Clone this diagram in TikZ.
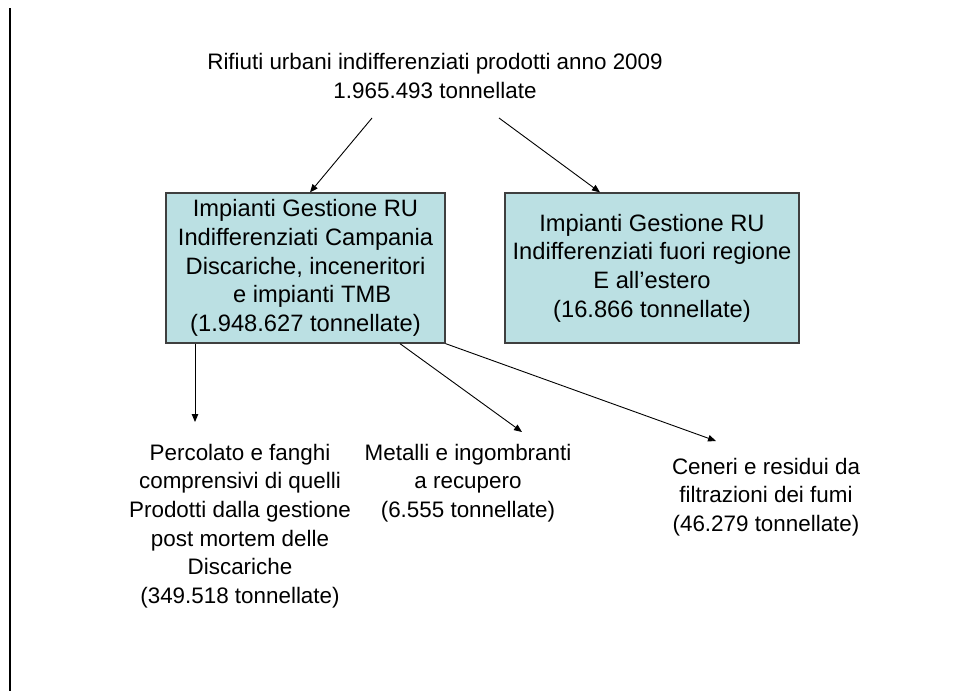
\documentclass[tikz,border=0pt]{standalone}
\usepackage{fontspec}
\setmainfont{Liberation Sans}
\usetikzlibrary{arrows.meta}
\definecolor{boxfill}{HTML}{BBE0E3}
\definecolor{boxline}{HTML}{3F3F3F}
\begin{document}
\begin{tikzpicture}[x=1pt, y=-1pt,
  txt/.style={align=center, font=\fontsize{22.4}{28.7}\selectfont, inner sep=0pt},
  box/.style={txt, font=\fontsize{23.7}{28.7}\selectfont, draw=boxline, fill=boxfill, line width=1.3pt, minimum height=150pt},
  arr/.style={-{Triangle[length=8pt,width=6.5pt]}, line width=0.9pt}] % {{{
\useasboundingbox (0,0) rectangle (958,691);
\draw[line width=2.2pt] (10,8) -- (10,691);
% Testi   {{{
\node[txt] (top) at (435,76) {Rifiuti urbani indifferenziati prodotti anno 2009\\1.965.493 tonnellate};
\node[box, minimum width=279pt] (camp) at (305.5,268) {Impianti Gestione RU\\Indifferenziati Campania\\Discariche, inceneritori\\\ \ e impianti TMB\\(1.948.627 tonnellate)};
\node[box, minimum width=294pt] (fuori) at (652,268) {Impianti Gestione RU\\Indifferenziati fuori regione\\E all'estero\\(16.866 tonnellate)};
\node[txt] (perc) at (240,526) {Percolato e fanghi\\comprensivi di quelli\\Prodotti dalla gestione\\post mortem delle\\Discariche\\(349.518 tonnellate)};
\node[txt] (met) at (468,483) {Metalli e ingombranti\\a recupero\\(6.555 tonnellate)};
\node[txt] (cen) at (766,497) {Ceneri e residui da\\filtrazioni dei fumi\\(46.279 tonnellate)};
% }}}
% Frecce   {{{
\coordinate (t1) at (372,118); \coordinate (t2) at (499,118);
\coordinate (p1) at (195,422); \coordinate (m1) at (522,432); \coordinate (c1) at (716,441);
\draw[arr] (t1) -- ([xshift=4.5]camp.north);
\draw[arr] (t2) -- ([xshift=-52]fuori.north);
\draw[arr] (camp.south -| p1) -- (p1);
\draw[arr] ([xshift=94.5]camp.south) -- (m1);
\draw[arr] (camp.south east) -- (c1);
% }}}
\end{tikzpicture} % }}}
\end{document}
